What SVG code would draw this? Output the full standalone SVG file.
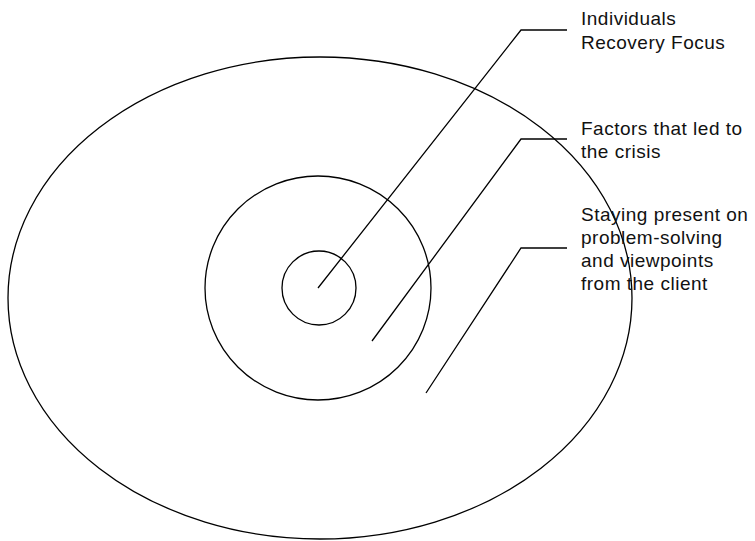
<svg xmlns="http://www.w3.org/2000/svg" width="755" height="541" viewBox="0 0 755 541">
<style>
.ring{fill:none;stroke:#000;stroke-width:1.3}
.lead{fill:none;stroke:#000;stroke-width:1.3}
.lbl{font-family:"Liberation Sans",Arial,sans-serif;font-size:19px;letter-spacing:0.5px;fill:#111}
</style>
<rect width="755" height="541" fill="#fff"/>
<g id="outer"><ellipse class="ring" cx="320" cy="298" rx="312" ry="241"/></g>
<g id="middle"><ellipse class="ring" cx="318" cy="288" rx="113" ry="112"/></g>
<g id="inner"><ellipse class="ring" cx="319" cy="288" rx="37" ry="37"/></g>
<g id="connectors">
<polyline class="lead" points="318,288 521,30 567,30"/>
<polyline class="lead" points="372,341 521,139 567,139"/>
<polyline class="lead" points="426,393 521,248 567,248"/>
</g>
<g id="label1"><text class="lbl" x="581" y="25">Individuals</text><text class="lbl" x="581" y="49">Recovery Focus</text></g>
<g id="label2"><text class="lbl" x="581" y="135">Factors that led to</text><text class="lbl" x="581" y="158">the crisis</text></g>
<g id="label3"><text class="lbl" x="581" y="221">Staying present on</text><text class="lbl" x="581" y="244">problem-solving</text><text class="lbl" x="581" y="267">and viewpoints</text><text class="lbl" x="581" y="290">from the client</text></g>
</svg>
